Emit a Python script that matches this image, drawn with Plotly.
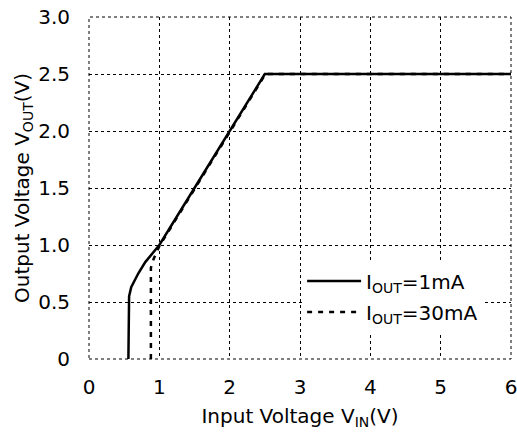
import plotly.graph_objects as go

# Data
vin_1ma = [0.56, 0.56, 0.57, 0.60, 0.70, 0.80, 0.90, 1.00, 1.50, 2.00, 2.50, 6.00]
vout_1ma = [0.00, 0.30, 0.55, 0.63, 0.75, 0.85, 0.93, 1.00, 1.50, 2.00, 2.50, 2.50]

vin_30ma = [0.88, 0.88, 0.92, 0.98, 1.00, 1.50, 2.00, 2.51, 6.00]
vout_30ma = [0.00, 0.80, 0.88, 0.96, 0.99, 1.49, 1.99, 2.50, 2.50]

x_ticks = [0, 1, 2, 3, 4, 5, 6]
x_ticktext = ["0", "1", "2", "3", "4", "5", "6"]
y_ticks = [0, 0.5, 1.0, 1.5, 2.0, 2.5, 3.0]
y_ticktext = ["0", "0.5", "1.0", "1.5", "2.0", "2.5", "3.0"]

FONT = "DejaVu Sans"
FS = 20

fig = go.Figure()
fig.add_trace(go.Scatter(
    x=vin_1ma, y=vout_1ma, mode="lines",
    name="I<sub>OUT</sub>=1mA", legendgroup="a",
    line=dict(color="black", width=2.5),
))
fig.add_trace(go.Scatter(
    x=vin_30ma, y=vout_30ma, mode="lines",
    name="I<sub>OUT</sub>=30mA", legendgroup="b",
    line=dict(color="black", width=2.5, dash="5px,6px"),
))

axis_common = dict(
    showgrid=True, gridcolor="black", gridwidth=1, griddash="dot",
    zeroline=False, showline=False, automargin=False,
    ticks="outside", tickcolor="rgba(0,0,0,0)",
    tickfont=dict(family=FONT, size=FS, color="black"),
    ticklabeloverflow="allow",
)

fig.update_xaxes(
    range=[0, 6], tickvals=x_ticks, ticktext=x_ticktext, ticklen=10,
    title=dict(text="Input Voltage V<sub>IN</sub>(V)",
               font=dict(family=FONT, size=FS, color="black"), standoff=10),
    **axis_common,
)
fig.update_yaxes(
    range=[0, 3], tickvals=y_ticks, ticktext=y_ticktext, ticklen=14,
    title=dict(text="Output Voltage V<sub>OUT</sub>(V)",
               font=dict(family=FONT, size=FS, color="black"), standoff=3),
    **axis_common,
)

fig.add_shape(type="rect", xref="paper", yref="paper", x0=0, y0=0, x1=1, y1=1,
              line=dict(color="black", width=1, dash="dot"), layer="above")

fig.update_layout(
    width=517, height=435,
    margin=dict(l=89, r=6, t=17, b=76),
    paper_bgcolor="white", plot_bgcolor="white",
    font=dict(family=FONT, size=FS, color="black"),
    showlegend=True,
    legend=dict(
        x=0.505, y=0.285, xanchor="left", yanchor="top",
        bgcolor="white", borderwidth=0,
        font=dict(family=FONT, size=FS, color="black"),
        itemwidth=54, tracegroupgap=2,
    ),
)

fig.write_html(
    "out.html",
    config={"displayModeBar": False},
    post_script="document.body.style.margin='0';document.body.style.overflow='hidden';",
)
